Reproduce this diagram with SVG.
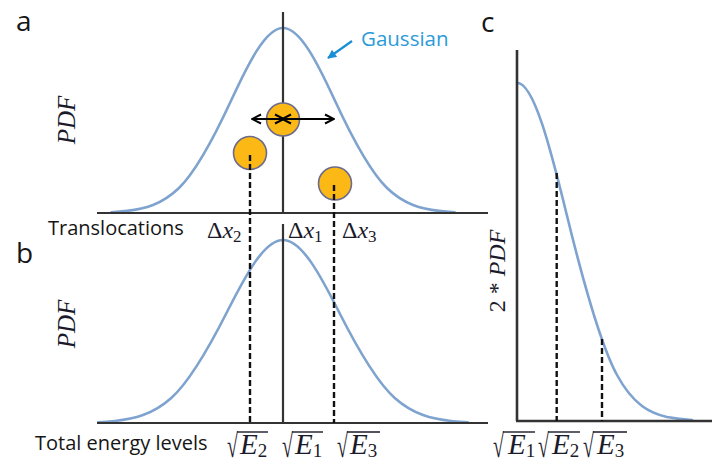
<svg xmlns="http://www.w3.org/2000/svg" width="712" height="464" viewBox="0 0 712 464">
<defs>
<style>
.axis{stroke:#333;stroke-width:2.2;fill:none}
.curve{stroke:#7fa3cf;stroke-width:2.6;fill:none;stroke-linecap:round}
.dash{stroke:#111;stroke-width:2.4;stroke-dasharray:6 3;fill:none}
.ball{fill:#fcb814;stroke:#6b6b8c;stroke-width:1.6}
.lab{font-family:"Open Sans","Liberation Sans",sans-serif;fill:#161616}
.math{font-family:"Liberation Serif","DejaVu Serif",serif;fill:#1a1a2a}
.it{font-style:italic}
.bar{stroke:#1a1a2a;stroke-width:1.4}
</style>
<marker id="chev" viewBox="0 0 12 12" refX="11" refY="6" markerWidth="12" markerHeight="12" markerUnits="userSpaceOnUse" orient="auto-start-reverse">
<path d="M2,1.5 L11,6 L2,10.5" fill="none" stroke="#000" stroke-width="2"/>
</marker>
<marker id="blue" viewBox="0 0 10 10" refX="9" refY="5" markerWidth="10" markerHeight="9" markerUnits="userSpaceOnUse" orient="auto">
<path d="M0,0 L10,5 L0,10 z" fill="#1b8fd6"/>
</marker>
</defs>
<rect width="712" height="464" fill="#fff"/>

<g id="panel-a">
<path class="curve" d="M111.4,212.2 C116.6,212 121.8,211.6 127,210.9 C144.3,208.9 161.7,204.7 179,188 C196.3,171.3 213.7,138.2 231,100.8 C248.3,63.4 265.7,28 283,28 C300.3,28 317.7,63.4 335,100.8 C352.3,138.2 369.7,171.3 387,188 C404.3,204.7 421.7,208.9 439,210.9 C444.2,211.6 449.4,212 454.6,212.2"/>
<line class="axis" x1="97" y1="213" x2="488" y2="213"/>
<line class="axis" x1="283" y1="12" x2="283" y2="213"/>
<text class="lab" x="16" y="31" font-size="28">a</text>
<text class="math it" transform="translate(75,120) rotate(-90)" text-anchor="middle" font-size="25">PDF</text>
<text class="lab" x="48" y="235" font-size="20">Translocations</text>
<text class="lab" x="361" y="46" font-size="20.5" style="fill:#2b9bd8">Gaussian</text>
</g>

<g id="particles">
<circle id="p1" class="ball" cx="283" cy="119.5" r="16.5"/>
<circle id="p2" class="ball" cx="250" cy="153" r="16.5"/>
<circle id="p3" class="ball" cx="335" cy="183.5" r="16.5"/>
</g>

<g id="panel-b">
<path class="curve" d="M98.2,422.2 C103.8,422 109.4,421.6 115,421 C133.7,418.9 152.3,414.7 171,398.2 C189.7,381.7 208.3,349 227,312 C245.7,275 264.3,240 283,240 C301.7,240 320.3,275 339,312 C357.7,349 376.3,381.7 395,398.2 C413.7,414.7 432.3,418.9 451,421 C456.6,421.6 462.2,422 467.8,422.2"/>
<line class="axis" x1="97" y1="423" x2="488" y2="423"/>
<line class="axis" x1="283" y1="224" x2="283" y2="423"/>
<text class="lab" x="16" y="263" font-size="28">b</text>
<text class="math it" transform="translate(75,324) rotate(-90)" text-anchor="middle" font-size="25">PDF</text>
<text class="lab" x="35" y="450" font-size="20">Total energy levels</text>
</g>

<g id="panel-c">
<path class="curve" d="M517,82.7 C533.7,82.7 550.3,147.4 567,215.7 C583.7,284 600.3,344.5 617,375 C633.7,405.5 650.3,413.2 667,417 C675.3,418.5 683.7,419.5 692,420"/>
<line class="axis" x1="517" y1="50" x2="517" y2="421" style="stroke-width:2.6"/>
<line class="axis" x1="516" y1="421" x2="712" y2="421" style="stroke-width:2.6"/>
<text class="lab" x="481" y="32" font-size="28">c</text>
<text class="math" transform="translate(505,271) rotate(-90)" text-anchor="middle" font-size="24">2 * <tspan class="it">PDF</tspan></text>
</g>

<g id="math-labels">
<text class="math" x="207" y="238" font-size="24">Δ<tspan class="it">x</tspan><tspan font-size="17" dy="4">2</tspan></text>
<text class="math" x="288" y="238" font-size="24">Δ<tspan class="it">x</tspan><tspan font-size="17" dy="4">1</tspan></text>
<text class="math" x="342" y="238" font-size="24">Δ<tspan class="it">x</tspan><tspan font-size="17" dy="4">3</tspan></text>

<text class="math" transform="translate(227,457) scale(0.6,1)" font-size="33">√</text>
<line class="bar" x1="237" y1="432" x2="268" y2="432"/>
<text class="math" x="240" y="454" font-size="29"><tspan class="it">E</tspan><tspan font-size="19" dy="3">2</tspan></text>

<text class="math" transform="translate(282,457) scale(0.6,1)" font-size="33">√</text>
<line class="bar" x1="292" y1="432" x2="323" y2="432"/>
<text class="math" x="295" y="454" font-size="29"><tspan class="it">E</tspan><tspan font-size="19" dy="3">1</tspan></text>

<text class="math" transform="translate(337,457) scale(0.6,1)" font-size="33">√</text>
<line class="bar" x1="347" y1="432" x2="380" y2="432"/>
<text class="math" x="350" y="454" font-size="29"><tspan class="it">E</tspan><tspan font-size="19" dy="3">3</tspan></text>

<text class="math" transform="translate(493,457) scale(0.6,1)" font-size="33">√</text>
<line class="bar" x1="503" y1="432" x2="535" y2="432"/>
<text class="math" x="508" y="454" font-size="29"><tspan class="it">E</tspan><tspan font-size="19" dy="3">1</tspan></text>

<text class="math" transform="translate(538,457) scale(0.6,1)" font-size="33">√</text>
<line class="bar" x1="548" y1="432" x2="580" y2="432"/>
<text class="math" x="552" y="454" font-size="29"><tspan class="it">E</tspan><tspan font-size="19" dy="3">2</tspan></text>

<text class="math" transform="translate(583,457) scale(0.6,1)" font-size="33">√</text>
<line class="bar" x1="593" y1="432" x2="627" y2="432"/>
<text class="math" x="597" y="454" font-size="29"><tspan class="it">E</tspan><tspan font-size="19" dy="3">3</tspan></text>
</g>

<g id="connectors">
<line class="dash" x1="250" y1="155" x2="250" y2="423"/>
<line class="dash" x1="334" y1="185" x2="334" y2="423"/>
<line class="dash" x1="556.7" y1="173" x2="556.7" y2="421"/>
<line class="dash" x1="602" y1="339" x2="602" y2="421"/>
<line x1="252" y1="119" x2="284" y2="119" stroke="#000" stroke-width="2" marker-start="url(#chev)" marker-end="url(#chev)"/>
<line x1="282" y1="119" x2="334" y2="119" stroke="#000" stroke-width="2" marker-start="url(#chev)" marker-end="url(#chev)"/>
<line x1="352" y1="41" x2="328" y2="58" stroke="#1b8fd6" stroke-width="2.2" marker-end="url(#blue)"/>
</g>
</svg>
